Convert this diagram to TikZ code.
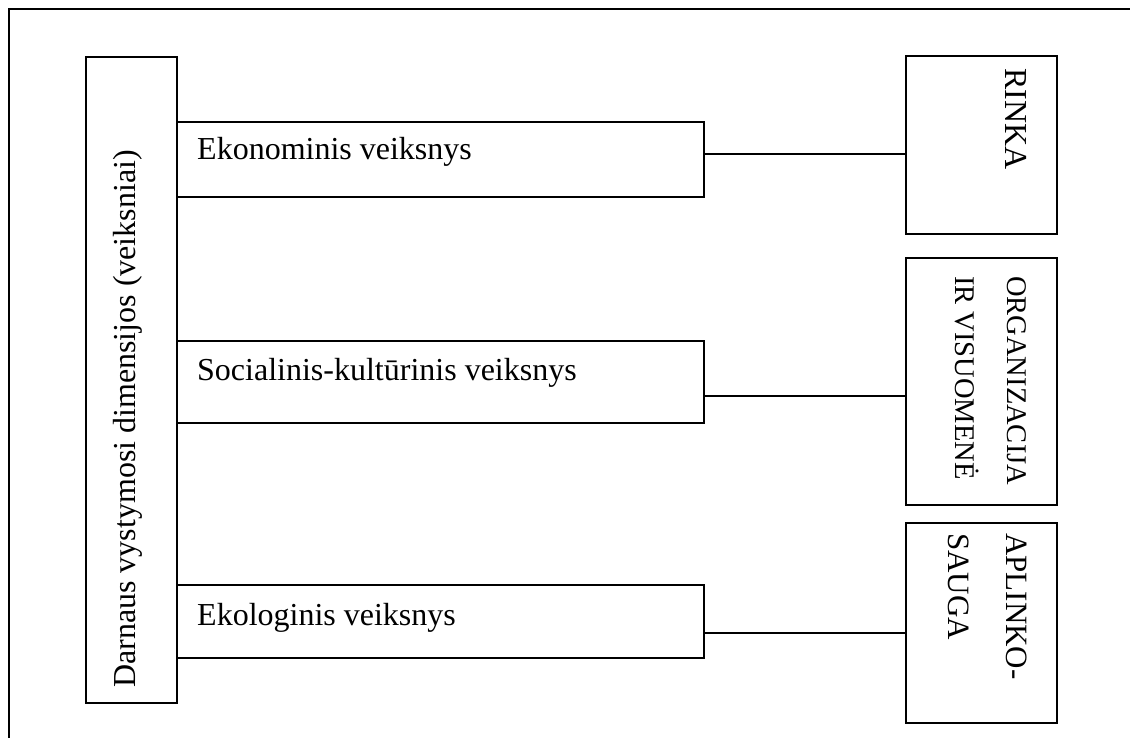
\documentclass[tikz,border=0pt]{standalone}
\usepackage{fontspec}
\setmainfont{Liberation Serif}
\usetikzlibrary{positioning}

\begin{document}
\begin{tikzpicture}[x=1pt, y=-1pt,
        box/.style={draw, line width=1.8pt, inner sep=0pt, anchor=north west},
        txt/.style={inner sep=0pt, font=\fontsize{32}{37}\selectfont}]
        \useasboundingbox (0,0) rectangle (1130,738);
        % Outer frame
        \draw[line width=1.8pt] (9,738) -- (9,9) -- (1130,9);

        % Dimensions column
        \node[box, minimum width=91pt, minimum height=646pt] (dim) at (85,56) {};
        \node[txt, rotate=90, anchor=base west] (dim_txt) at ([shift={(50pt,-632pt)}]dim.north west) {Darnaus vystymosi dimensijos (veiksniai)};

        % Factors
        \node[box, minimum width=527pt, minimum height=75pt] (eko) at (176,121) {};
        \node[txt, anchor=base west] (eko_txt) at ([shift={(21pt,-39pt)}]eko.north west) {Ekonominis veiksnys};
        \node[box, minimum width=527pt, minimum height=82pt] (soc) at (176,340) {};
        \node[txt, anchor=base west] (soc_txt) at ([shift={(21pt,-40pt)}]soc.north west) {Socialinis-kultūrinis veiksnys};
        \node[box, minimum width=527pt, minimum height=73pt] (ekol) at (176,584) {};
        \node[txt, anchor=base west] (ekol_txt) at ([shift={(21pt,-41pt)}]ekol.north west) {Ekologinis veiksnys};

        % Spheres
        \node[box, minimum width=151pt, minimum height=178pt] (rinka) at (905,55) {};
        \node[txt, rotate=-90, anchor=north west, align=left] (rinka_txt) at ([shift={(122pt,-13pt)}]rinka.north west) {RINKA};
        \node[box, minimum width=151pt, minimum height=247pt] (org) at (905,257) {};
        \node[txt, rotate=-90, anchor=north west, align=left, font=\fontsize{28.5}{52}\selectfont] (org_txt) at ([shift={(122pt,-19pt)}]org.north west) {ORGANIZACIJA\\IR VISUOMENĖ};
        \node[box, minimum width=151pt, minimum height=200pt] (apl) at (905,522) {};
        \node[txt, rotate=-90, anchor=north west, align=left, font=\fontsize{31}{58}\selectfont] (apl_txt) at ([shift={(122pt,-11pt)}]apl.north west) {APLINKO-\\SAUGA};

        % Links
        \draw[line width=1.8pt] ([yshift=5.5pt]eko.east) -- ([yshift=5.5pt]eko.east -| rinka.west);
        \draw[line width=1.8pt] ([yshift=-14pt]soc.east) -- ([yshift=-14pt]soc.east -| org.west);
        \draw[line width=1.8pt] ([yshift=-11.5pt]ekol.east) -- ([yshift=-11.5pt]ekol.east -| apl.west);
    \end{tikzpicture}
\end{document}
